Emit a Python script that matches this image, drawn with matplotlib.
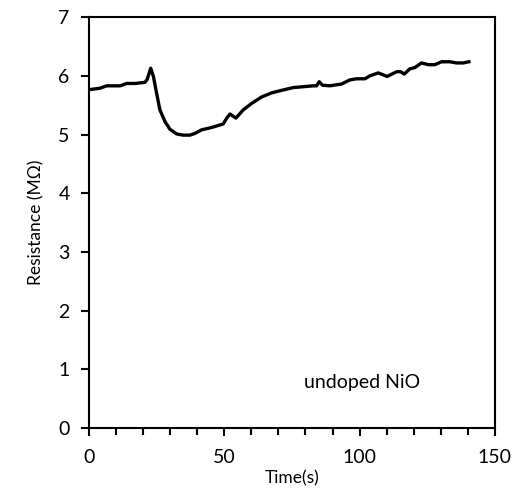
import matplotlib
matplotlib.use("Agg")
import matplotlib.pyplot as plt
from matplotlib.ticker import MultipleLocator

plt.rcParams['font.family'] = ['Lato', 'DejaVu Sans']

# time (s) and resistance (MOhm)
time_s = [1.0, 4.1, 6.5, 11.5, 13.9, 17.0, 20.7, 21.5, 22.8, 23.8, 25.0, 26.2,
          28.1, 29.9, 32.4, 34.8, 37.3, 39.2, 41.6, 45.3, 49.6, 50.9, 52.1,
          54.3, 57.0, 60.1, 63.8, 67.5, 71.8, 75.5, 78.0, 82.9, 84.1, 85.1,
          86.3, 89.0, 93.3, 96.4, 98.9, 102.0, 103.8, 106.9, 110.2, 113.7,
          115.2, 116.5, 118.6, 120.4, 122.9, 125.4, 127.8, 130.3, 133.4,
          135.8, 138.3, 140.4]
resistance = [5.77, 5.79, 5.83, 5.83, 5.87, 5.87, 5.89, 5.94, 6.13, 5.99, 5.70,
              5.42, 5.22, 5.09, 5.01, 4.99, 4.99, 5.02, 5.08, 5.12, 5.18, 5.28,
              5.35, 5.28, 5.42, 5.53, 5.64, 5.71, 5.76, 5.80, 5.81, 5.83, 5.83,
              5.90, 5.84, 5.83, 5.86, 5.93, 5.95, 5.95, 6.00, 6.05, 5.99, 6.07,
              6.07, 6.03, 6.12, 6.14, 6.22, 6.19, 6.19, 6.24, 6.24, 6.22, 6.22,
              6.24]

fig = plt.figure(figsize=(5.16, 4.90), dpi=100)
ax = fig.add_axes([0.1725, 0.1265, 0.7865, 0.8385])

ax.plot(time_s, resistance, color='black', lw=2.4, solid_joinstyle='round')

ax.set_xlim(0, 150)
ax.set_ylim(0, 7)
ax.xaxis.set_major_locator(MultipleLocator(50))
ax.xaxis.set_minor_locator(MultipleLocator(10))
ax.yaxis.set_major_locator(MultipleLocator(1))
ax.tick_params(which='both', direction='out', width=1.5, labelsize=14,
               top=False, right=False)
ax.tick_params(axis='x', which='major', length=6, pad=9)
ax.tick_params(axis='x', which='minor', length=5)
ax.tick_params(axis='y', which='major', length=6, pad=8)
for s in ax.spines.values():
    s.set_linewidth(1.5)

ax.set_xlabel('Time(s)', fontsize=12.5, labelpad=3)
ax.set_ylabel('Resistance (MΩ)', fontsize=12.5, labelpad=10)
ax.text(100.8, 0.78, 'undoped NiO', fontsize=14, ha='center', va='center')

fig.savefig('out.png', dpi=100)
